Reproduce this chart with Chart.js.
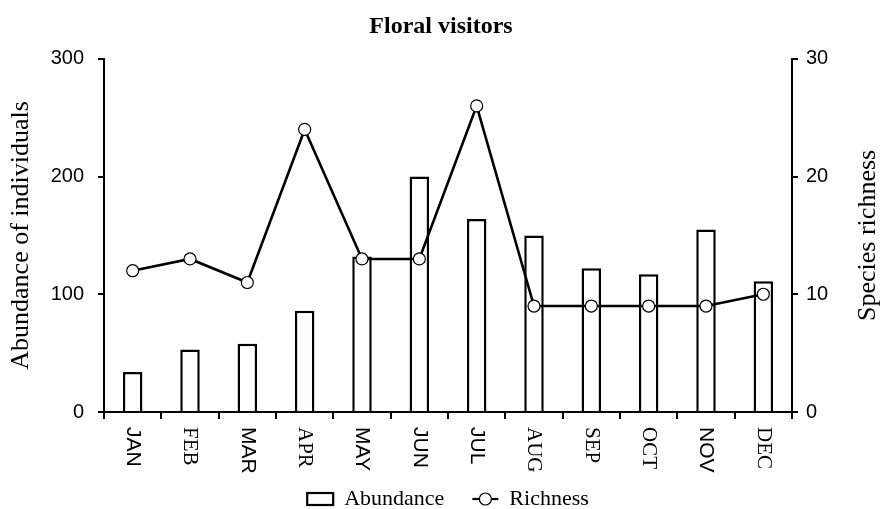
<!DOCTYPE html>
<html>
<head>
<meta charset="utf-8">
<title>Floral visitors</title>
<script src="https://cdn.jsdelivr.net/npm/chart.js@4.4.1/dist/chart.umd.min.js"></script>
<style>
  html, body { margin: 0; padding: 0; background: #fff; }
</style>
</head>
<body>
<canvas id="visitors" width="882" height="509"></canvas>
<script>
// monthly counts of floral visitors
const months = ['JAN', 'FEB', 'MAR', 'APR', 'MAY', 'JUN', 'JUL', 'AUG', 'SEP', 'OCT', 'NOV', 'DEC'];
const abundance = [34, 53, 58, 86, 132, 200, 164, 150, 122, 117, 155, 111];
const richness = [12, 13, 11, 24, 13, 13, 26, 9, 9, 9, 9, 10];
const abundanceTicks = [0, 100, 200, 300];
const richnessTicks = [0, 10, 20, 30];

const serif = "'Liberation Serif', 'Times New Roman', serif";
const sans = "'Liberation Sans', Arial, sans-serif";
// some month names came out in a sans face in the original figure
const sansMonths = ['JAN', 'MAR', 'MAY', 'JUN', 'JUL', 'NOV'];

// month labels (rotated clockwise), right axis title and the legend
const extras = {
    id: 'extras',
    afterDraw(chart) {
        const { ctx, chartArea } = chart;
        const x = chart.scales.x;
        ctx.save();
        ctx.fillStyle = '#000';

        ctx.textAlign = 'left';
        ctx.textBaseline = 'middle';
        chart.data.labels.forEach((m, i) => {
            ctx.save();
            ctx.translate(x.getPixelForValue(i), x.top + 15);
            ctx.rotate(Math.PI / 2);
            ctx.font = '21px ' + (sansMonths.includes(m) ? sans : serif);
            ctx.fillText(m, 0, 0);
            ctx.restore();
        });

        ctx.save();
        ctx.translate(868, (chartArea.top + chartArea.bottom) / 2);
        ctx.rotate(-Math.PI / 2);
        ctx.textAlign = 'center';
        ctx.font = '26px ' + serif;
        ctx.fillText('Species richness', 0, 0);
        ctx.restore();

        // legend
        const markW = 26, gapText = 11, gapItem = 28, ly = 499;
        ctx.font = '22px ' + serif;
        const sets = chart.data.datasets;
        const widths = sets.map(ds => markW + gapText + ctx.measureText(ds.label).width);
        const total = widths.reduce((a, b) => a + b, 0) + gapItem * (sets.length - 1);
        let lx = (chartArea.left + chartArea.right) / 2 - total / 2;
        sets.forEach((ds, i) => {
            ctx.strokeStyle = '#000';
            ctx.fillStyle = '#fff';
            if (ds.type === 'bar') {
                ctx.lineWidth = 2.2;
                ctx.fillRect(lx, ly - 6, markW, 12);
                ctx.strokeRect(lx, ly - 6, markW, 12);
            } else {
                ctx.lineWidth = 2.2;
                ctx.beginPath();
                ctx.moveTo(lx, ly);
                ctx.lineTo(lx + markW, ly);
                ctx.stroke();
                ctx.lineWidth = 1.2;
                ctx.beginPath();
                ctx.arc(lx + markW / 2, ly, 6, 0, Math.PI * 2);
                ctx.fill();
                ctx.stroke();
            }
            ctx.fillStyle = '#000';
            ctx.textAlign = 'left';
            ctx.textBaseline = 'middle';
            ctx.fillText(ds.label, lx + markW + gapText, ly);
            lx += widths[i] + gapItem;
        });
        ctx.restore();
    }
};

const axisGrid = { drawOnChartArea: false, color: '#000', lineWidth: 2, tickLength: 6 };
const axisBorder = { color: '#000', width: 2 };

new Chart(document.getElementById('visitors'), {
    data: {
        labels: months,
        datasets: [{
            type: 'bar',
            label: 'Abundance',
            data: abundance,
            yAxisID: 'y',
            backgroundColor: '#fff',
            borderColor: '#000',
            borderWidth: 2.5,
            barPercentage: 0.34,
            categoryPercentage: 1,
            order: 2
        }, {
            type: 'line',
            label: 'Richness',
            data: richness,
            yAxisID: 'y1',
            borderColor: '#000',
            borderWidth: 2.6,
            tension: 0,
            pointRadius: 6,
            pointBackgroundColor: '#fff',
            pointBorderColor: '#000',
            pointBorderWidth: 1.2,
            order: 1
        }]
    },
    options: {
        responsive: false,
        animation: false,
        events: [],
        layout: { padding: 0 },
        plugins: {
            legend: { display: false },
            tooltip: { enabled: false },
            title: {
                display: true,
                text: 'Floral visitors',
                color: '#000',
                font: { family: serif, size: 24, weight: 'bold' },
                padding: { top: 12, bottom: 18 }
            }
        },
        scales: {
            x: {
                grid: { ...axisGrid, offset: true, tickLength: 7 },
                border: axisBorder,
                ticks: { display: false },
                afterFit: s => { s.height = 97; }
            },
            y: {
                position: 'left',
                min: abundanceTicks[0],
                max: abundanceTicks[abundanceTicks.length - 1],
                afterBuildTicks: s => { s.ticks = abundanceTicks.map(v => ({ value: v })); },
                grid: axisGrid,
                border: axisBorder,
                ticks: { color: '#000', font: { family: sans, size: 20 }, padding: 14 },
                title: {
                    display: true,
                    text: 'Abundance of individuals',
                    color: '#000',
                    font: { family: serif, size: 26 },
                    padding: { top: 6, bottom: 0 }
                },
                afterFit: s => { s.width = 104; }
            },
            y1: {
                position: 'right',
                min: richnessTicks[0],
                max: richnessTicks[richnessTicks.length - 1],
                afterBuildTicks: s => { s.ticks = richnessTicks.map(v => ({ value: v })); },
                grid: axisGrid,
                border: axisBorder,
                ticks: { color: '#000', font: { family: sans, size: 20 }, padding: 8 },
                afterFit: s => { s.width = 90; }
            }
        }
    },
    plugins: [extras]
});
</script>
</body>
</html>
